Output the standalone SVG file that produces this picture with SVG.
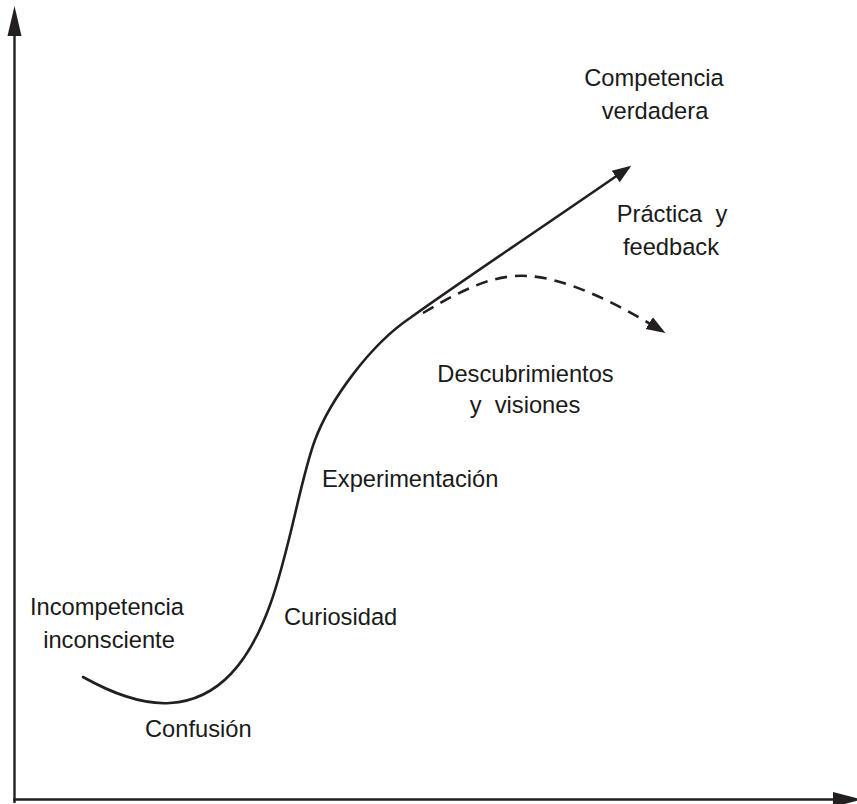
<svg xmlns="http://www.w3.org/2000/svg" width="857" height="804" viewBox="0 0 857 804">
<style>
.lbl{font-family:"Liberation Sans",Arial,sans-serif;font-size:23.7px;fill:#1a1a1a}
.ax{stroke:#231f20;stroke-width:2.4;fill:none}
.cv{stroke:#231f20;stroke-width:2.6;fill:none;stroke-linecap:round}
.ds{stroke:#231f20;stroke-width:2.6;fill:none;stroke-dasharray:12 8}
</style>
<defs>
<marker id="ah" markerUnits="userSpaceOnUse" markerWidth="20" markerHeight="16" viewBox="0 0 20 16" refX="15" refY="8" orient="auto">
<path d="M0,1 L19,8 L0,15 Z" fill="#231f20"/>
</marker>
</defs>
<rect width="857" height="804" fill="#fff"/>
<g id="axes">
<line class="ax" x1="14.5" y1="803" x2="14.5" y2="30"/>
<polygon points="14.5,6 7.5,36 21.5,36" fill="#231f20"/>
<line class="ax" x1="13.3" y1="799.5" x2="838" y2="799.5"/>
<polygon points="862,799.5 833,792 833,807" fill="#231f20"/>
</g>
<g id="connectors">
<path class="cv" d="M83,677 C110,692 140,705 170,703 C220,700 250,660 270,605 C290,550 300,480 315,440 C330,400 370,345 410,318 C470,275 565,212 628,168" marker-end="url(#ah)"/>
<path class="ds" d="M423,313 C465,288 495,274 528,276 C565,278 615,302 662,331" marker-end="url(#ah)"/>
</g>
<g id="n-competencia"><text class="lbl" x="654" y="86" text-anchor="middle">Competencia</text><text class="lbl" x="655" y="119" text-anchor="middle">verdadera</text></g>
<g id="n-practica"><text class="lbl" x="672" y="222" text-anchor="middle" xml:space="preserve">Práctica  y</text><text class="lbl" x="671" y="255" text-anchor="middle">feedback</text></g>
<g id="n-descubrimientos"><text class="lbl" x="525.5" y="382" text-anchor="middle">Descubrimientos</text><text class="lbl" x="525" y="413" text-anchor="middle" xml:space="preserve">y  visiones</text></g>
<g id="n-experimentacion"><text class="lbl" x="322" y="487">Experimentación</text></g>
<g id="n-curiosidad"><text class="lbl" x="284" y="625">Curiosidad</text></g>
<g id="n-confusion"><text class="lbl" x="145" y="737">Confusión</text></g>
<g id="n-incompetencia"><text class="lbl" x="107" y="615" text-anchor="middle">Incompetencia</text><text class="lbl" x="109" y="648" text-anchor="middle">inconsciente</text></g>
</svg>
